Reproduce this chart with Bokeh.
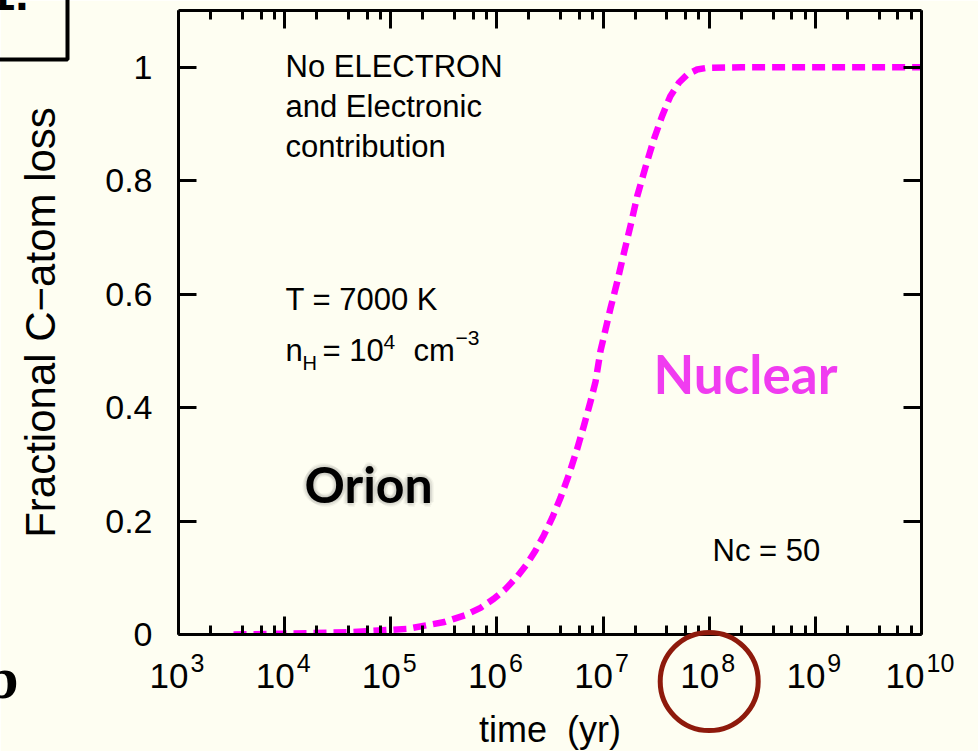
from bokeh.plotting import figure
from bokeh.models import (Range1d, LogAxis, LinearAxis, FixedTicker,
                          ColumnDataSource, CustomJSTickFormatter)
from bokeh.core.properties import value
from bokeh.embed import file_html
from bokeh.resources import INLINE

# ---- data: fractional C-atom loss (nuclear channel) vs time ----
time_yr = [3.3e3, 1.0e4, 4.2e4, 1.43e5, 3.2e5, 5.0e5, 7.0e5, 9.35e5, 1.2e6,
           1.55e6, 1.93e6, 2.31e6, 2.77e6, 3.32e6, 3.97e6, 4.75e6, 5.7e6,
           6.6e6, 7.6e6, 8.5e6, 9.46e6, 1.175e7, 1.36e7, 1.57e7, 1.82e7,
           2.1e7, 2.51e7, 3.0e7, 3.6e7, 4.3e7, 5.2e7, 6.2e7, 7.7e7, 9.6e7,
           2.0e8, 1.0e9, 1.0e10]
c_loss = [0.0, 0.0015, 0.004, 0.010, 0.022, 0.034, 0.047, 0.063, 0.080,
          0.102, 0.125, 0.148, 0.175, 0.206, 0.241, 0.281, 0.327,
          0.368, 0.410, 0.446, 0.500, 0.575, 0.622, 0.672, 0.722,
          0.773, 0.824, 0.872, 0.914, 0.949, 0.973, 0.987, 0.996, 0.999,
          1.0, 1.0, 1.0]

x_tick_exponents = [3, 4, 5, 6, 7, 8, 9, 10]
x_minor_mantissas = [2, 4, 6, 8]
y_ticks = [0.0, 0.2, 0.4, 0.6, 0.8, 1.0]
y_tick_labels = ["0", "0.2", "0.4", "0.6", "0.8", "1"]
highlight_exponent = 8

# ---- styling ----
BG = "#FEFEF2"
FONT = "Liberation Sans"
MAGENTA = "#FF00FF"
BASE_SHIFT = 0.37      # alphabetic-baseline correction, in em

W, H = 978, 751
FL, FR, FT, FB = 178, 921, 10, 634          # frame edges in page pixels
X_LO, X_HI, Y_LO, Y_HI = 3, 10, 0.0, 1.1


def px_x(px):
    """page pixel column -> data x (log axis)"""
    return 10 ** (X_LO + (px - FL) / (FR - FL) * (X_HI - X_LO))


def px_y(py):
    """page pixel row -> data y"""
    return Y_LO + (FB - py) / (FB - FT) * (Y_HI - Y_LO)


p = figure(width=W, height=H, x_axis_type="log",
           x_range=Range1d(10 ** X_LO, 10 ** X_HI), y_range=Range1d(Y_LO, Y_HI),
           output_backend="svg", toolbar_location=None,
           min_border_left=FL, min_border_right=W - FR,
           min_border_top=FT, min_border_bottom=H - FB,
           background_fill_color=BG, border_fill_color=BG,
           outline_line_color=None)
p.grid.visible = False

x_major = [10.0 ** e for e in x_tick_exponents]
x_minor = [m * 10.0 ** e for e in x_tick_exponents[:-1] for m in x_minor_mantissas]
blank = CustomJSTickFormatter(code="return ''")


def style_axis(ax, minor=True):
    ax.axis_line_width = 3
    ax.axis_line_color = "black"
    ax.major_tick_in = 18
    ax.major_tick_out = 0
    ax.major_tick_line_width = 3
    ax.major_tick_line_color = "black"
    if minor:
        ax.minor_tick_in = 9
        ax.minor_tick_out = 0
        ax.minor_tick_line_width = 3
        ax.minor_tick_line_color = "black"
    else:
        ax.minor_tick_line_color = None


# bottom axis (tick labels and title drawn separately)
xb = p.xaxis[0]
xb.ticker = FixedTicker(ticks=x_major, minor_ticks=x_minor)
xb.formatter = blank
xb.major_label_text_font_size = "0px"
xb.major_label_standoff = 0
style_axis(xb)

# left axis
yl = p.yaxis[0]
yl.ticker = FixedTicker(ticks=y_ticks)
yl.formatter = CustomJSTickFormatter(
    args=dict(vals=y_ticks, labs=y_tick_labels),
    code="const i = vals.findIndex(v => Math.abs(v - tick) < 1e-9); return i >= 0 ? labs[i] : '';")
yl.major_label_text_font = FONT
yl.major_label_text_font_size = "34px"
yl.major_label_text_color = "black"
yl.major_label_standoff = 26
style_axis(yl, minor=False)
yl.axis_label = "Fractional C\u2212atom loss"
yl.axis_label_text_font = FONT
yl.axis_label_text_font_size = "42px"
yl.axis_label_text_font_style = "normal"
yl.axis_label_text_color = "black"
yl.axis_label_standoff = 38

# mirrored top / right axes
xt = LogAxis(ticker=FixedTicker(ticks=x_major, minor_ticks=x_minor), formatter=blank,
             major_label_text_font_size="0px", major_label_standoff=0)
style_axis(xt)
p.add_layout(xt, "above")
yr = LinearAxis(ticker=FixedTicker(ticks=y_ticks), formatter=blank,
                major_label_text_font_size="0px", major_label_standoff=0)
style_axis(yr, minor=False)
p.add_layout(yr, "right")

# the curve
p.line(time_yr, c_loss, line_color=MAGENTA, line_width=6.5,
       line_dash="13 7", line_cap="butt", line_join="round")


def text_px(txt, px, py, size=31, font=FONT, style="normal", color="black",
            align="left", alpha=1.0):
    """free text placed by page pixel (py = baseline), drawn above the frame clip"""
    p.text(x=[px_x(px)], y=[px_y(py - BASE_SHIFT * size)], text=[txt],
           text_font=value(font), text_font_size=f"{size}px",
           text_font_style=style, text_color=color, text_alpha=alpha,
           text_align=align, text_baseline="alphabetic", level="overlay")


# x tick labels: "10" with a raised exponent, centred on the tick
sup_txt = [str(e) for e in x_tick_exponents]
shift = [10 - 7 * (len(s) - 1) for s in sup_txt]
xlab = ColumnDataSource(dict(
    x=x_major, base=["10"] * len(x_major), sup=sup_txt,
    dx_base=shift, dx_sup=[s + 2 for s in shift]))
p.text(x="x", y=Y_LO, text="base", source=xlab, x_offset="dx_base",
       y_offset=54 - BASE_SHIFT * 35,
       text_align="right", text_baseline="alphabetic",
       text_font=value(FONT), text_font_size="35px", text_color="black", level="overlay")
p.text(x="x", y=Y_LO, text="sup", source=xlab, x_offset="dx_sup",
       y_offset=38 - BASE_SHIFT * 25,
       text_align="left", text_baseline="alphabetic",
       text_font=value(FONT), text_font_size="25px", text_color="black", level="overlay")

# x axis title
text_px("time\u00a0\u00a0(yr)", (FL + FR) / 2, 742, size=36, align="center")

# ring around the 10^8 label
p.scatter(x=[10.0 ** highlight_exponent], y=[px_y(681)], size=98, marker="circle",
          fill_color=None, line_color="#8E1A0C", line_width=5, level="overlay")

# annotations
text_px("No ELECTRON", 285, 77)
text_px("and Electronic", 285, 117)
text_px("contribution", 285, 157)
text_px("T = 7000 K", 285, 310)
text_px("n", 285, 361)
text_px("H", 302, 370, size=20)
text_px("= 10", 322, 361)
text_px("4", 383, 349, size=21)
text_px("cm", 413, 361)
text_px("\u22123", 455, 345, size=21)
text_px("Nc = 50", 712, 561)

text_px("Nuclear", 653, 393, size=53, font="Lato", style="bold", color="#F03CF0")

# soft halo behind "Orion"
for ox, oy in [(-3, 0), (3, 0), (0, -3), (0, 3), (-2, -2), (2, 2), (-2, 2), (2, -2),
               (-4, 1), (4, -1), (1, 4), (-1, -4)]:
    text_px("Orion", 304 + ox, 502 + oy, size=50, font="Lato", style="bold",
            color="#6E6E60", alpha=0.06)
text_px("Orion", 304, 502, size=50, font="Lato", style="bold")

# panel marks at the page edges
text_px("b", 18, 700, size=60, font="Liberation Serif", style="bold", align="right")
text_px("1.", 28, 11, size=48, style="bold", align="right")
p.quad(left=[px_x(-40)], right=[px_x(67)], bottom=[px_y(59)], top=[px_y(-40)],
       fill_color=None, line_color="black", line_width=4, level="overlay")

open("out.html", "w").write(file_html(p, INLINE))
